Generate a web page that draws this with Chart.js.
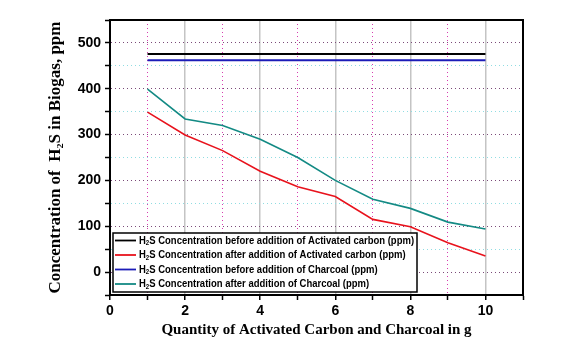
<!DOCTYPE html>
<html>
<head>
<meta charset="utf-8">
<script src="https://cdn.jsdelivr.net/npm/chart.js@4"></script>
<style>
  html, body { margin: 0; padding: 0; background: #fff; }
  #wrap { width: 583px; height: 346px; }
</style>
</head>
<body>
<div id="wrap"><canvas id="c" width="583" height="346"></canvas></div>
<script>
// data
const quantity = [1, 2, 3, 4, 5, 6, 7, 8, 9, 10];
const beforeCarbon = [476, 476, 476, 476, 476, 476, 476, 476, 476, 476];
const afterCarbon = [349, 299, 265, 220, 186, 165, 115, 99, 64, 35];
const beforeCharcoal = [462, 462, 462, 462, 462, 462, 462, 462, 462, 462];
const afterCharcoal = [399, 334, 320, 290, 250, 200, 159, 139, 109, 94];
const seriesLabels = [
  'Concentration before addition of Activated carbon (ppm)',
  'Concentration after addition of Activated carbon (ppm)',
  'Concentration before addition of Charcoal (ppm)',
  'Concentration after addition of Charcoal (ppm)'
];
const xTickLabels = [0, 2, 4, 6, 8, 10];
const yTickLabels = [0, 100, 200, 300, 400, 500];

const pts = arr => arr.map((v, i) => ({ x: quantity[i], y: v }));

// legend box inside plot, drawn on the canvas
const legendBox = {
  id: 'legendBox',
  afterDatasetsDraw(chart) {
    const ctx = chart.ctx;
    const x0 = 113, y0 = 233, w = 304, h = 59;
    ctx.save();
    ctx.fillStyle = '#fff';
    ctx.fillRect(x0, y0, w, h);
    ctx.strokeStyle = '#000';
    ctx.lineWidth = 1.5;
    ctx.strokeRect(x0, y0, w, h);
    const rows = [240.5, 255, 269.5, 284];
    ctx.font = 'bold 11px "Liberation Sans", Arial, sans-serif';
    // squeeze text horizontally to the narrow face of the original
    const full = 'H2S ' + seriesLabels[0];
    const sx = 277 / ctx.measureText(full).width;
    chart.data.datasets.forEach((ds, i) => {
      const y = rows[i];
      ctx.strokeStyle = ds.borderColor;
      ctx.lineWidth = 1.8;
      ctx.beginPath();
      ctx.moveTo(115, y);
      ctx.lineTo(136, y);
      ctx.stroke();
      ctx.save();
      ctx.translate(139, y);
      ctx.scale(sx, 1);
      ctx.fillStyle = '#000';
      ctx.textBaseline = 'middle';
      ctx.font = 'bold 11px "Liberation Sans", Arial, sans-serif';
      let cx = 0;
      ctx.fillText('H', cx, 0);
      cx += ctx.measureText('H').width;
      ctx.font = 'bold 7px "Liberation Sans", Arial, sans-serif';
      ctx.fillText('2', cx, 3);
      cx += ctx.measureText('2').width;
      ctx.font = 'bold 11px "Liberation Sans", Arial, sans-serif';
      ctx.fillText('S ' + seriesLabels[i], cx, 0);
      ctx.restore();
    });
    ctx.restore();
  }
};

// closed frame around the plot
const frame = {
  id: 'frame',
  afterDraw(chart) {
    const a = chart.chartArea;
    const ctx = chart.ctx;
    ctx.save();
    ctx.strokeStyle = '#000';
    ctx.lineWidth = 2;
    ctx.strokeRect(a.left, a.top, a.right - a.left, a.bottom - a.top);
    ctx.restore();
  }
};

new Chart(document.getElementById('c'), {
  type: 'line',
  data: {
    datasets: [
      { label: seriesLabels[0], data: pts(beforeCarbon), borderColor: '#000000', borderWidth: 2 },
      { label: seriesLabels[1], data: pts(afterCarbon), borderColor: '#e8121c', borderWidth: 1.6 },
      { label: seriesLabels[2], data: pts(beforeCharcoal), borderColor: '#1c1cb8', borderWidth: 2 },
      { label: seriesLabels[3], data: pts(afterCharcoal), borderColor: '#138a84', borderWidth: 1.6 }
    ]
  },
  options: {
    responsive: false,
    animation: false,
    layout: { padding: { top: 20, right: 60, left: 0, bottom: 0 } },
    elements: { point: { radius: 0 }, line: { tension: 0 } },
    plugins: { legend: { display: false }, tooltip: { enabled: false } },
    scales: {
      x: {
        type: 'linear', min: 0, max: 11,
        afterFit(s) { s.height = 51; },
        afterBuildTicks(s) { s.ticks = quantity.concat([0, 11]).sort((a, b) => a - b).map(v => ({ value: v })); },
        ticks: {
          autoSkip: false, maxRotation: 0, padding: 3,
          color: '#000',
          font: { family: '"Liberation Sans", Arial, sans-serif', size: 14, weight: 'bold' },
          callback: v => xTickLabels.includes(v) ? String(v) : ''
        },
        grid: {
          drawOnChartArea: true, tickLength: 5, tickColor: '#000', tickWidth: 1.5,
          color: c => {
            const v = c.tick && c.tick.value;
            if (v === 0 || v === 11) return 'rgba(0,0,0,0)';
            return v % 2 === 0 ? '#c4c4c4' : '#d83cb0';
          },
          lineWidth: c => (c.tick && c.tick.value % 2 === 0) ? 1.5 : 1
        },
        border: {
          color: '#000', width: 2,
          dash: c => (c.tick && c.tick.value % 2 === 1) ? [1, 3] : []
        },
        title: {
          display: true,
          text: 'Quantity of Activated Carbon and Charcoal in g',
          color: '#000',
          font: { family: '"Liberation Serif", "Times New Roman", serif', size: 15, weight: 'bold' },
          padding: { top: 0, bottom: 7 }
        }
      },
      y: {
        type: 'linear', min: -50, max: 550,
        afterFit(s) { s.width = 110; },
        afterBuildTicks(s) {
          const t = [];
          for (let v = -50; v <= 550; v += 50) t.push({ value: v });
          s.ticks = t;
        },
        ticks: {
          autoSkip: false, padding: 4,
          color: '#000',
          font: { family: '"Liberation Sans", Arial, sans-serif', size: 14, weight: 'bold' },
          callback: v => yTickLabels.includes(v) ? String(v) : ''
        },
        grid: {
          tickLength: 5, tickColor: '#000', tickWidth: 1.5,
          color: c => {
            const v = c.tick && c.tick.value;
            if (v === -50 || v === 550) return 'rgba(0,0,0,0)';
            return v % 100 === 0 ? '#7a4a78' : '#90dde2';
          },
          lineWidth: c => 1
        },
        border: {
          color: '#000', width: 2,
          dash: c => [1, 3]
        },
        title: {
          display: true,
          text: 'Concentration of  H\u2082S in Biogas, ppm',
          color: '#000',
          font: { family: '"Liberation Serif", "Times New Roman", serif', size: 17, weight: 'bold' },
          padding: { top: 45, bottom: 0 }
        }
      }
    }
  },
  plugins: [legendBox, frame]
});
</script>
</body>
</html>
